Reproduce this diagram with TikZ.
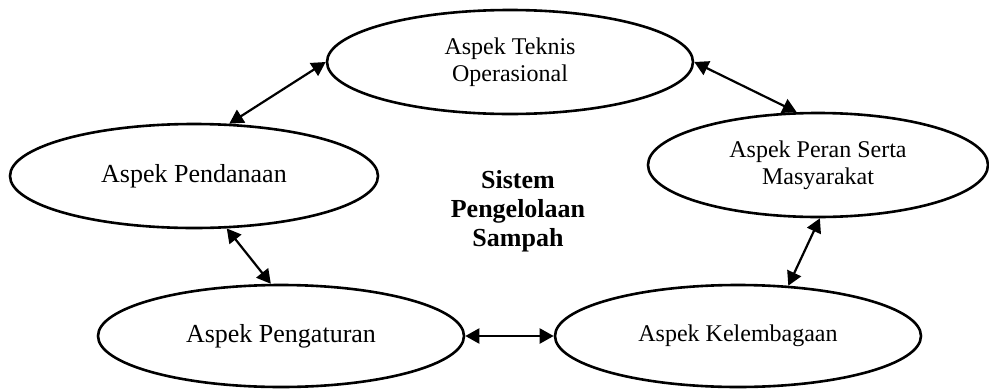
\documentclass[tikz,border=0pt]{standalone}
\usepackage{fontspec}
\setmainfont{Liberation Serif}
\usetikzlibrary{shapes.geometric,arrows.meta}
\tikzset{
  aspek/.style={ellipse,draw,line width=2.6pt,inner sep=0pt,align=center,
    minimum width=366pt,minimum height=104pt},
  panah/.style={{Triangle[length=14pt,width=15pt]}-{Triangle[length=14pt,width=15pt]},
    line width=2.2pt},
}
\begin{document}
\begin{tikzpicture}[x=1pt,y=-1pt]
  \useasboundingbox (0,0) rectangle (989,389);
  % five aspects round the centre
  \node[aspek,font=\fontsize{24}{27}\selectfont] (teknis) at (510,62) {Aspek Teknis\\Operasional};
  \node[aspek,minimum width=368pt,font=\fontsize{26}{29}\selectfont] (dana) at (194,176) {Aspek Pendanaan};
  \node[aspek,minimum width=340pt,font=\fontsize{24}{27}\selectfont] (peran) at (818,165) {Aspek Peran Serta\\Masyarakat};
  \node[aspek,minimum height=102pt,font=\fontsize{26}{29}\selectfont] (atur) at (281,336) {Aspek Pengaturan};
  \node[aspek,minimum height=102pt,font=\fontsize{24}{27}\selectfont] (lembaga) at (738,336) {Aspek Kelembagaan};
  \node[align=center,font=\fontsize{26}{29}\selectfont\bfseries] (sistem) at (518,211) {Sistem\\Pengelolaan\\Sampah};
  \draw[panah] (dana.56) -- (teknis.west);
  \draw[panah] (teknis.east) -- (peran.112);
  \draw[panah] (dana.-58) -- (atur.101);
  \draw[panah] (atur.east) -- (lembaga.west);
  \draw[panah] (lembaga.45) -- (peran.-88);
\end{tikzpicture}
\end{document}
